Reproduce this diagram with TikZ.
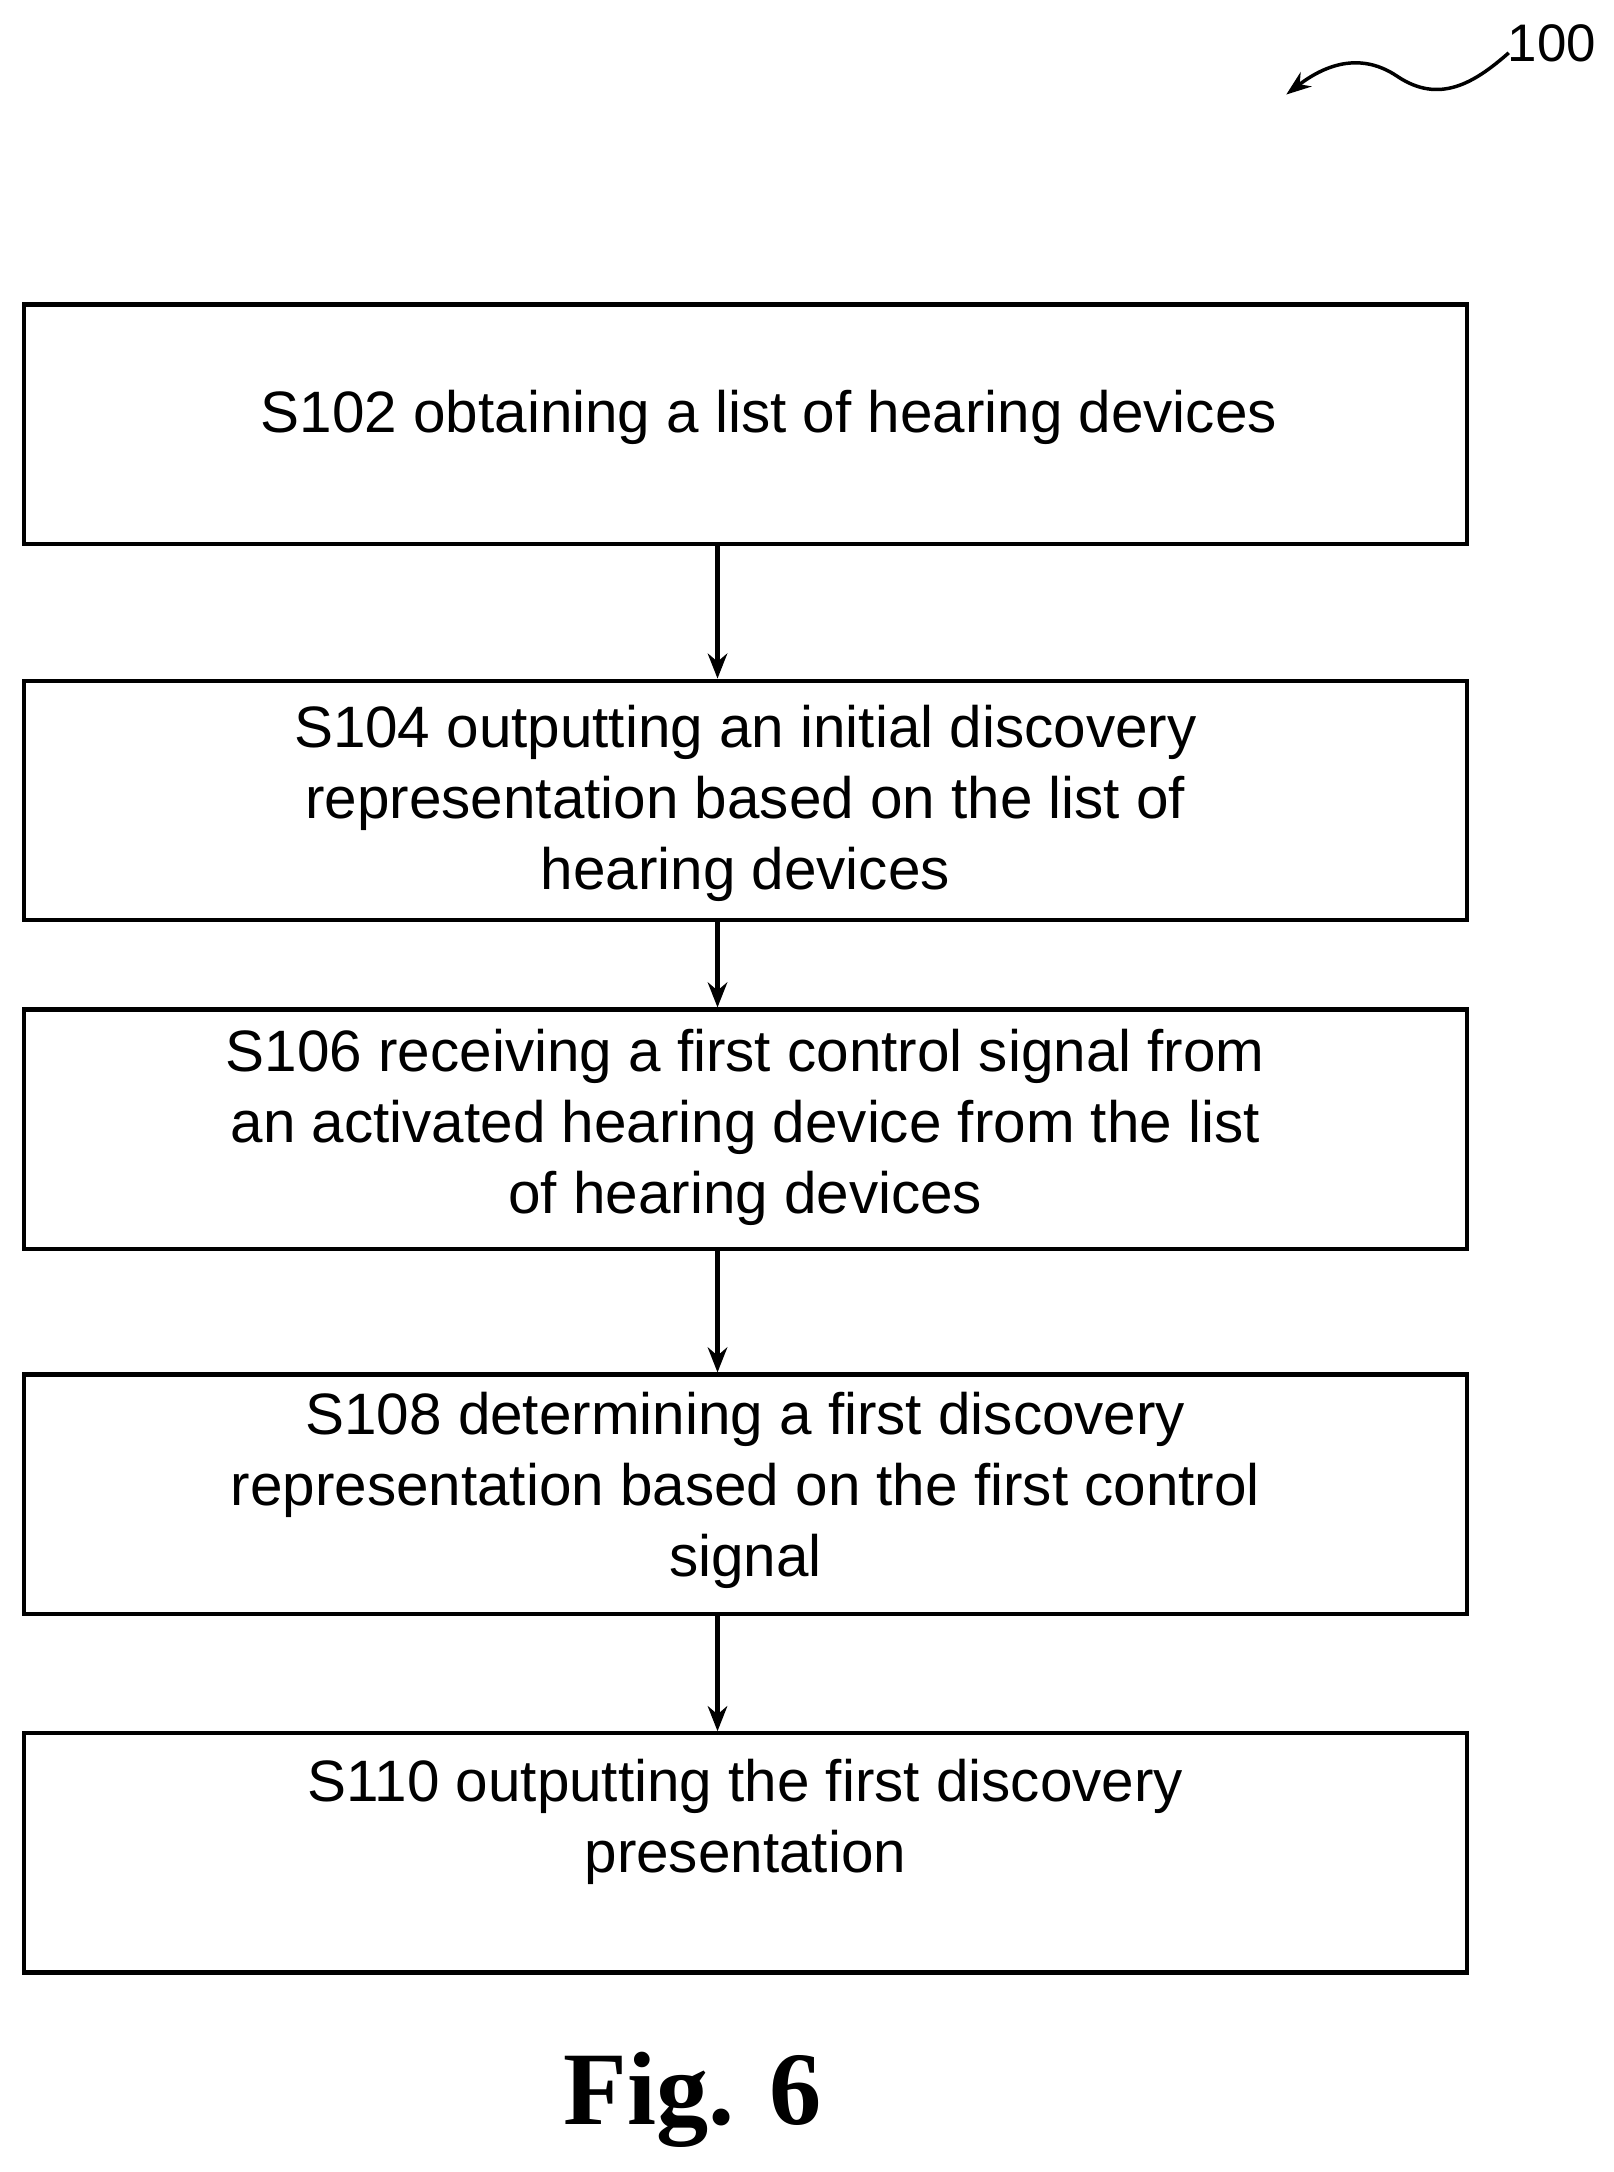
\documentclass[tikz,border=0pt]{standalone}
\usepackage{fontspec}
\setmainfont{Liberation Sans}
\newfontfamily\figfont{Liberation Serif}
\usetikzlibrary{arrows.meta}
\begin{document}
\begin{tikzpicture}[x=1pt,y=-1pt,
  box/.style={draw,line width=3pt,minimum width=1038pt,minimum height=172pt,inner sep=0pt},
  txt/.style={align=center,font=\fontsize{42}{51}\selectfont},
  arr/.style={line width=3.5pt,-{Stealth[length=18pt,width=14pt]}}]
\useasboundingbox (0,0) rectangle (1160,1562);
\node[box] (b1) at (536,305) {};
\node[box] (b2) at (536,575.5) {};
\node[box] (b3) at (536,812) {};
\node[box] (b4) at (536,1074.5) {};
\node[box] (b5) at (536,1332.5) {};
\node[txt] (t1) at (553,300) {S102 obtaining a list of hearing devices};
\node[txt] (t2) at (536,578) {S104 outputting an initial discovery\\representation based on the list of\\hearing devices};
\node[txt] (t3) at (536,811) {S106 receiving a first control signal from\\an activated hearing device from the list\\of hearing devices};
\node[txt] (t4) at (536,1072) {S108 determining a first discovery\\representation based on the first control\\signal};
\node[txt] (t5) at (536,1310) {S110 outputting the first discovery\\presentation};
\draw[arr] ([xshift=-20pt]b1.south) -- ([xshift=-20pt]b2.north);
\draw[arr] ([xshift=-20pt]b2.south) -- ([xshift=-20pt]b3.north);
\draw[arr] ([xshift=-20pt]b3.south) -- ([xshift=-20pt]b4.north);
\draw[arr] ([xshift=-20pt]b4.south) -- ([xshift=-20pt]b5.north);
\node[font=\figfont\bfseries\fontsize{75}{85}\selectfont] (fig) at (498,1510) {Fig. 6};
\node[font=\fontsize{38}{40}\selectfont] (lbl) at (1116,31) {100};
\coordinate (tip) at (925,68);
\draw[line width=2.5pt,-{Stealth[length=18pt,width=13pt]}] (1085,38) .. controls (1060,60) and (1035,75) .. (1005,55) .. controls (980,38) and (955,45) .. (tip);
\end{tikzpicture}
\end{document}
